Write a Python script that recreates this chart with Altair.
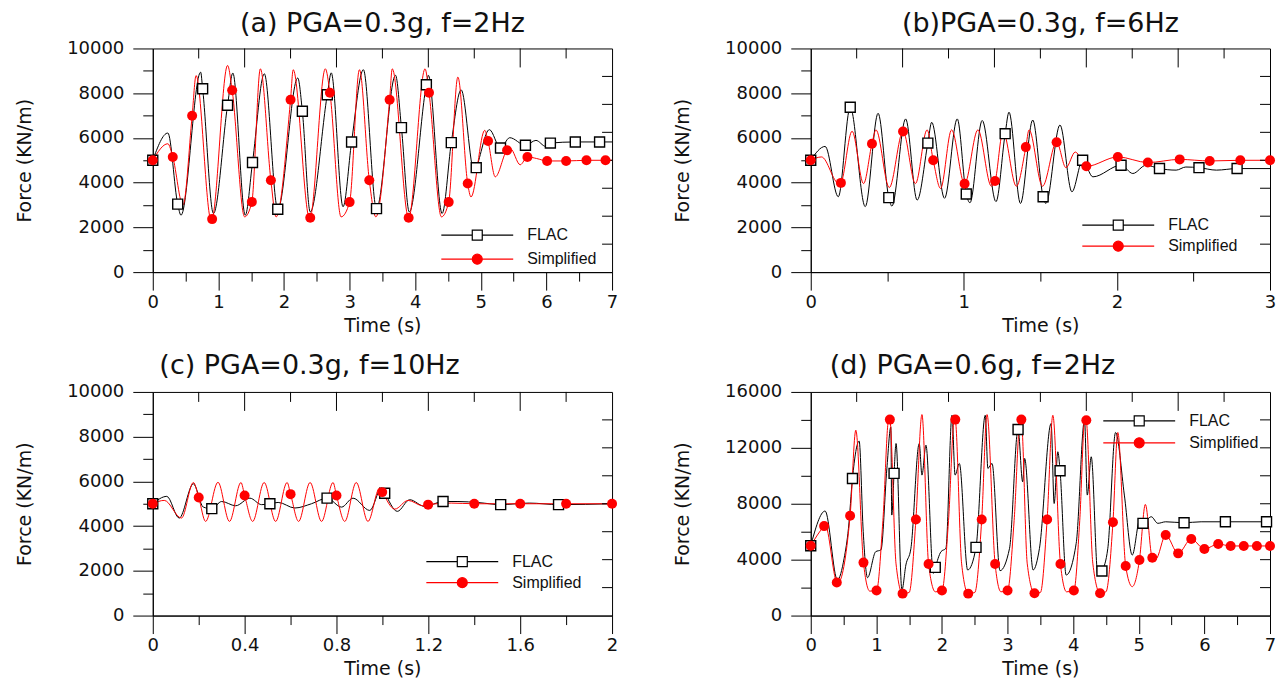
import altair as alt
import pandas as pd

SERIES = ["FLAC", "Simplified"]

# ---------------- Panel (a): PGA=0.3g, f=2Hz ----------------
A_FLAC_T = [0.23, 0.43, 0.73, 0.925, 1.22, 1.41, 1.70, 2.21, 2.40, 2.72, 2.90, 3.21, 3.70, 3.91, 4.20, 4.41, 4.70, 4.90, 5.13, 5.44, 5.84, 5.99, 7.0]
A_FLAC_V = [6220, 2545, 8940, 2620, 8900, 2545, 8870, 8680, 2690, 8910, 2920, 9050, 8800, 2690, 8800, 2620, 8150, 4480, 6370, 6010, 5890, 5620, 5820]
A_FLAC_MT = [0, 0.38, 0.76, 1.14, 1.52, 1.905, 2.28, 2.66, 3.03, 3.41, 3.79, 4.17, 4.55, 4.93, 5.30, 5.68, 6.06, 6.44, 6.81]
A_FLAC_MV = [5000, 3040, 8200, 7460, 4900, 2810, 7190, 7930, 5820, 2840, 6460, 8380, 5790, 4670, 5550, 5670, 5770, 5820, 5820]
A_SIMP_T = [0.23, 0.46, 0.66, 0.89, 1.14, 1.40, 1.64, 1.88, 2.14, 2.39, 2.63, 2.87, 3.15, 3.40, 3.65, 4.15, 4.40, 4.65, 4.85, 5.06, 5.22, 5.45, 5.60, 5.85, 7.0]
A_SIMP_V = [5740, 2990, 8790, 2320, 9240, 2470, 9090, 2470, 9050, 2400, 9090, 2470, 9050, 2470, 9090, 9090, 2470, 8720, 3360, 6340, 4260, 5520, 4800, 5080, 5000]
A_SIMP_MT = [0, 0.305, 0.60, 0.905, 1.21, 1.51, 1.80, 2.10, 2.40, 2.70, 3.0, 3.30, 3.61, 3.90, 4.21, 4.51, 4.80, 5.11, 5.40, 5.71, 6.01, 6.30, 6.61, 6.90]
A_SIMP_MV = [5000, 5150, 6990, 2370, 8130, 3140, 4110, 7710, 2430, 8020, 3130, 4110, 7710, 2430, 8020, 3130, 3960, 5860, 5450, 5150, 4970, 4970, 5000, 5000]

# ---------------- Panel (b): PGA=0.3g, f=6Hz ----------------
B_FLAC_T = [0.094, 0.18, 0.356, 0.44, 0.53, 0.62, 0.695, 0.79, 0.874, 0.957, 1.04, 1.12, 1.21, 1.295, 1.37, 1.45, 1.536, 1.628, 1.706, 1.843, 2.104, 2.19, 2.387, 2.45, 2.65, 3.0]
B_FLAC_V = [5620, 3370, 2930, 7100, 2950, 6850, 3220, 6700, 3300, 6850, 3100, 6780, 3150, 7150, 3070, 6800, 3070, 6580, 3590, 4260, 4410, 4780, 4560, 4700, 4560, 4630]
B_FLAC_MT = [0, 0.258, 0.51, 0.765, 1.016, 1.27, 1.518, 1.776, 2.027, 2.278, 2.536, 2.785]
B_FLAC_MV = [5000, 7370, 3330, 5770, 3490, 6190, 3370, 5000, 4780, 4630, 4670, 4630]
B_SIMP_T = [0.07, 0.185, 0.27, 0.345, 0.426, 0.513, 0.684, 0.76, 0.848, 0.92, 1.092, 1.18, 1.256, 1.343, 1.426, 1.514, 1.667, 1.728]
B_SIMP_V = [5150, 3950, 6300, 3960, 6360, 3780, 3960, 6360, 3740, 6360, 6360, 3840, 6300, 3840, 6360, 3840, 4670, 5370]
B_SIMP_MT = [0, 0.197, 0.40, 0.603, 0.80, 1.005, 1.204, 1.405, 1.606, 1.80, 2.006, 2.202, 2.41, 2.606, 2.806, 3.0]
B_SIMP_MV = [5000, 3990, 5740, 6290, 5000, 3950, 4070, 5590, 5810, 4730, 5150, 4900, 5040, 4970, 5000, 5000]

# ---------------- Panel (c): PGA=0.3g, f=10Hz ----------------
C_FLAC_T = [0.061, 0.115, 0.177, 0.22, 0.30, 0.361, 0.423, 0.474, 0.546, 0.619, 0.691, 0.822, 0.872, 0.945, 0.996, 1.065, 1.119, 1.184, 1.329, 1.42, 1.64, 2.0]
C_FLAC_V = [5330, 4360, 5890, 4850, 5100, 4910, 5250, 4960, 5060, 4810, 5000, 4850, 5250, 4700, 5700, 4660, 5180, 4880, 5100, 5050, 5030, 5000]
C_FLAC_MT = [0, 0.257, 0.51, 0.759, 1.01, 1.264, 1.515, 1.767]
C_FLAC_MV = [5000, 4780, 5000, 5250, 5470, 5100, 4960, 4960]
C_SIMP_T = [0.05, 0.125, 0.177, 0.23, 0.284, 0.334, 0.384, 0.435, 0.485, 0.535, 0.585, 0.635, 0.685, 0.735, 0.785, 0.836, 0.886, 0.937, 0.988, 1.054, 1.112, 1.176, 1.30]
C_SIMP_V = [5150, 4360, 5950, 4210, 5960, 4210, 5950, 4210, 5950, 4210, 5950, 4210, 5950, 4210, 5950, 4210, 5950, 4210, 5700, 4760, 5150, 4910, 5030]
C_SIMP_MT = [0, 0.2, 0.4, 0.6, 0.8, 0.999, 1.199, 1.4, 1.6, 1.8, 2.0]
C_SIMP_MV = [5000, 5280, 5370, 5430, 5370, 5520, 4960, 5000, 5000, 5000, 5000]

# ---------------- Panel (d): PGA=0.6g, f=2Hz ----------------
D_FLAC_T = [0.219, 0.407, 0.509, 0.575, 0.738, 0.80, 0.865, 0.99, 1.07, 1.16, 1.221, 1.235, 1.30, 1.39, 1.45, 1.527,
            1.654, 1.695, 1.756, 1.868, 1.985, 2.06, 2.153, 2.20, 2.265, 2.392, 2.66, 2.70, 2.763, 2.885, 3.03, 3.23,
            3.26, 3.39, 3.486, 3.664, 3.71, 3.766, 3.893, 4.046, 4.173, 4.215, 4.275, 4.377, 4.528, 4.646, 4.78, 4.90,
            5.02, 5.19, 5.29, 5.41, 5.95, 7.0]
D_FLAC_V = [7480, 2550, 4100, 6240, 12480, 6000, 2710, 4570, 4700, 10500, 13500, 7190, 12310, 1830, 3620, 4810,
            12310, 10050, 12190, 3020, 4570, 4810, 14330, 10050, 10880, 3260, 14330, 10530, 10880, 3210, 4810, 9570,
            11240, 3260, 4810, 13740, 8020, 11720, 2900, 5170, 13980, 8620, 11360, 2900, 4810, 13100, 8620, 4330,
            6950, 7070, 6600, 6710, 6710, 6710]
D_FLAC_MT = [0, 0.636, 1.27, 1.898, 2.519, 3.16, 3.80, 4.438, 5.064, 5.69, 6.32, 6.947]
D_FLAC_MV = [5000, 9810, 10170, 3450, 4880, 13310, 10360, 3190, 6600, 6640, 6710, 6710]
D_SIMP_T = [0.22, 0.41, 0.687, 0.90, 1.10, 1.19, 1.30, 1.50, 1.695, 1.90, 2.10, 2.19, 2.30, 2.50, 2.687, 2.90,
            3.10, 3.195, 3.30, 3.50, 3.69, 3.90, 4.10, 4.18, 4.30, 4.50, 4.68, 4.90, 5.10, 5.26]
D_SIMP_V = [6480, 2300, 13260, 1750, 6800, 14100, 3700, 1650, 14380, 1700, 6800, 14100, 3700, 1650, 14380, 1700,
            6800, 14100, 3700, 1650, 14330, 1700, 6800, 14210, 3700, 1700, 13100, 2070, 7950, 4050]
D_SIMP_MT = [0, 0.204, 0.397, 0.60, 0.804, 1.003, 1.206, 1.40, 1.603, 1.796, 2.0, 2.203, 2.40, 2.606, 2.81, 3.0,
             3.21, 3.41, 3.603, 3.806, 4.01, 4.20, 4.41, 4.606, 4.80, 5.01, 5.206, 5.41, 5.60, 5.80, 6.0, 6.21,
             6.40, 6.60, 6.80, 7.0]
D_SIMP_MV = [5000, 6400, 2360, 7140, 3790, 1790, 14020, 1570, 6880, 3690, 1790, 14020, 1570, 6880, 3690, 1790,
             14020, 1600, 6880, 3690, 1790, 13980, 1600, 6670, 3550, 3980, 4140, 5760, 4450, 5480, 4760, 5120,
             4980, 4980, 4980, 4980]

TITLES = ["(a) PGA=0.3g, f=2Hz", "(b)PGA=0.3g, f=6Hz", "(c) PGA=0.3g, f=10Hz", "(d) PGA=0.6g, f=2Hz"]

FONT = "DejaVu Sans"
LEG_FONT = "Liberation Sans"
FLAC_PATH = "M-7.2,0H-1M1,0H7.2M-1,-1H1V1H-1Z"
SIMP_PATH = "M-7.2,0H7.2M-1,0A1,1,0,1,0,1,0A1,1,0,1,0,-1,0Z"
PW, PH = 460, 224


def series_df(name, lt, lv, mt, mv):
    pts = sorted(list(zip(lt, lv)) + list(zip(mt, mv)))
    return pd.DataFrame({"t": [p[0] for p in pts], "v": [p[1] for p in pts], "series": name})


def marker_df(name, mt, mv):
    return pd.DataFrame({"t": mt, "v": mv, "series": name})


def panel(title, tdx, toff, xmax, xstep, xlab, ymax, ystep, ylab, fl, fm, sl, sm, lx, ly, rowpad):
    flac_df = series_df("FLAC", *fl, *fm)
    simp_df = series_df("Simplified", *sl, *sm)
    sq_df = marker_df("FLAC", *fm)
    dot_df = marker_df("Simplified", *sm)

    nx = int(round(xmax / xstep))
    xticks = [round(k * xstep, 6) for k in range(nx + 1)]
    ny = int(round(ymax / ystep))
    yticks = [k * ystep for k in range(ny + 1)]
    top_step = xmax / 10.0
    top_major = pd.DataFrame({"t": [round(k * top_step, 6) for k in range(2, 10, 2)]})
    top_minor = pd.DataFrame({"t": [round(k * top_step, 6) for k in range(1, 10, 2)]})
    right_ticks = pd.DataFrame({"v": [k * ymax / 8.0 for k in range(1, 8)]})

    xs = alt.Scale(domain=[0, xmax], nice=False, zero=False)
    ys = alt.Scale(domain=[0, ymax], nice=False, zero=False)
    xlab_n = int(round(xlab / xstep))
    xmajor = f"round(datum.value/{xstep})%{xlab_n}==0"

    bottom_axis = alt.Axis(
        values=xticks, title="Time (s)", grid=False, labelFlush=False,
        labelExpr=f"{xmajor} ? toString(round(datum.value*10)/10) : ''",
        tickSize={"condition": {"test": f"!({xmajor})", "value": 9}, "value": 18},
        labelPadding=3, titlePadding=5,
    )
    left_axis = alt.Axis(
        values=yticks, title="Force (KN/m)", grid=False, format="d",
        labelExpr=f"datum.value % {ylab} == 0 ? datum.label : ''",
        tickSize={"condition": {"test": f"datum.value % {ylab} != 0", "value": 10}, "value": 20},
        labelPadding=9, titlePadding=32,
    )

    line_f = alt.Chart(flac_df).mark_line(strokeWidth=1, interpolate="monotone", color="black").encode(
        x=alt.X("t:Q", scale=xs, axis=bottom_axis),
        y=alt.Y("v:Q", scale=ys, axis=left_axis),
    )
    line_s = alt.Chart(simp_df).mark_line(strokeWidth=1, interpolate="monotone", color="red").encode(
        x=alt.X("t:Q", scale=xs, axis=None),
        y=alt.Y("v:Q", scale=ys, axis=None),
    )
    squares = alt.Chart(sq_df).mark_point(shape="square", size=100, filled=True, fill="white",
                                          stroke="black", strokeWidth=1.4, opacity=1).encode(
        x=alt.X("t:Q", scale=xs, axis=None),
        y=alt.Y("v:Q", scale=ys, axis=None),
    )
    dots = alt.Chart(dot_df).mark_circle(size=100, color="red", opacity=1).encode(
        x=alt.X("t:Q", scale=xs, axis=None),
        y=alt.Y("v:Q", scale=ys, axis=None),
    )
    # inward ticks on the top and right frame edges
    tmaj = alt.Chart(top_major).mark_rule(color="black", strokeWidth=1).encode(
        x=alt.X("t:Q", scale=xs, axis=None), y=alt.value(0), y2=alt.value(19))
    tmin = alt.Chart(top_minor).mark_rule(color="black", strokeWidth=1).encode(
        x=alt.X("t:Q", scale=xs, axis=None), y=alt.value(0), y2=alt.value(10))
    rtk = alt.Chart(right_ticks).mark_rule(color="black", strokeWidth=1).encode(
        y=alt.Y("v:Q", scale=ys, axis=None), x=alt.value(PW - 10), x2=alt.value(PW))

    leg = alt.Legend(orient="none", legendX=lx, legendY=ly, title=None, symbolSize=100,
                     symbolStrokeWidth=1.2, symbolOpacity=1, labelFont=LEG_FONT, labelFontSize=16,
                     labelColor="#111", labelOffset=42, rowPadding=rowpad, padding=0)
    legend_layer = alt.Chart(dot_df).transform_filter("false").mark_point(filled=True, opacity=1).encode(
        x=alt.X("t:Q", scale=xs, axis=None),
        y=alt.Y("v:Q", scale=ys, axis=None),
        stroke=alt.Stroke("series:N", scale=alt.Scale(domain=SERIES, range=["black", "red"]), legend=leg),
        fill=alt.Fill("series:N", scale=alt.Scale(domain=SERIES, range=["white", "red"]), legend=leg),
        shape=alt.Shape("series:N", scale=alt.Scale(domain=SERIES, range=[FLAC_PATH, SIMP_PATH]), legend=leg),
    )
    return alt.layer(line_f, line_s, tmaj, tmin, rtk, squares, dots, legend_layer).resolve_axis(
        x="independent", y="independent"
    ).properties(
        width=PW, height=PH,
        title=alt.TitleParams(title, anchor="middle", dx=tdx, offset=toff, fontSize=27,
                              font=FONT, fontWeight="normal", color="#111"),
    )


pa = panel(TITLES[0], 0, 1, 7, 0.5, 1, 10000, 1000, 2000,
           (A_FLAC_T, A_FLAC_V), (A_FLAC_MT, A_FLAC_MV), (A_SIMP_T, A_SIMP_V), (A_SIMP_MT, A_SIMP_MV), 317, 179, 8)
pb = panel(TITLES[1], 0, 1, 3, 0.5, 1, 10000, 1000, 2000,
           (B_FLAC_T, B_FLAC_V), (B_FLAC_MT, B_FLAC_MV), (B_SIMP_T, B_SIMP_V), (B_SIMP_MT, B_SIMP_MV), 300, 169, 5)
pc = panel(TITLES[2], -73, 3, 2, 0.2, 0.4, 10000, 1000, 2000,
           (C_FLAC_T, C_FLAC_V), (C_FLAC_MT, C_FLAC_MV), (C_SIMP_T, C_SIMP_V), (C_SIMP_MT, C_SIMP_MV), 302, 162, 5)
pd_ = panel(TITLES[3], -68, 3, 7, 0.5, 1, 16000, 2000, 4000,
            (D_FLAC_T, D_FLAC_V), (D_FLAC_MT, D_FLAC_MV), (D_SIMP_T, D_SIMP_V), (D_SIMP_MT, D_SIMP_MV), 321, 21, 6)

ind = dict(stroke="independent", fill="independent", shape="independent")
top = alt.hconcat(pa, pb, spacing=54).resolve_scale(**ind)
bottom = alt.hconcat(pc, pd_, spacing=54).resolve_scale(**ind)
chart = alt.vconcat(top, bottom, spacing=15).resolve_scale(**ind).properties(
    padding={"left": 7, "top": 1, "right": 2, "bottom": 2}
).configure_view(
    stroke="black", strokeWidth=1
).configure_axis(
    domainColor="black", domainWidth=1, tickColor="black", tickWidth=1,
    labelFont=FONT, labelFontSize=18, labelColor="#111",
    titleFont=FONT, titleFontSize=19, titleFontWeight="normal", titleColor="#111",
).configure_title(
    font=FONT, fontSize=27, fontWeight="normal", color="#111"
)

chart.save("out.html", embed_options={"renderer": "svg", "actions": False})
